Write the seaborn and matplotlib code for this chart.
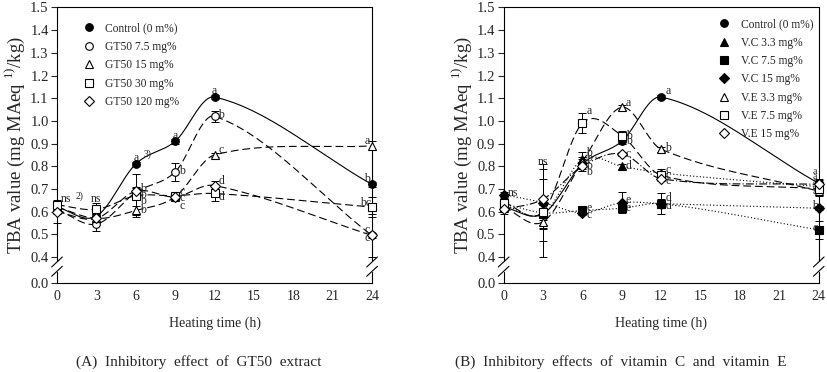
import numpy as np
import matplotlib.pyplot as plt
import seaborn as sns
from matplotlib.lines import Line2D

sns.set_style('white')
plt.rcParams['font.family'] = ['Liberation Serif', 'DejaVu Serif']
plt.rcParams['mathtext.fontset'] = 'custom'
plt.rcParams['mathtext.rm'] = 'Liberation Serif'

hours = [0, 3, 6, 9, 12, 24]

# panel A: GT50 extract
ctrl_a = [0.62, 0.58, 0.81, 0.91, 1.105, 0.72]
ctrl_a_err = [0.02, 0.02, 0.01, 0.01, 0.01, 0.01]
gt75 = [0.61, 0.545, 0.685, 0.775, 1.02, 0.495]
gt75_err = [0.02, 0.03, 0.02, 0.04, 0.025, 0.01]
gt15 = [0.62, 0.57, 0.605, 0.665, 0.85, 0.89]
gt15_err = [0.02, 0.02, 0.02, 0.01, 0.01, 0.02]
gt30 = [0.63, 0.61, 0.67, 0.67, 0.68, 0.62]
gt30_err = [0.01, 0.03, 0.095, 0.01, 0.035, 0.045]
gt120 = [0.60, 0.57, 0.69, 0.665, 0.715, 0.495]
gt120_err = [0.05, 0.02, 0.02, 0.01, 0.02, 0.095]

# panel B: vitamin C / vitamin E
ctrl_b = [0.62, 0.59, 0.81, 0.91, 1.105, 0.725]
ctrl_b_err = [0.02, 0.05, 0.02, 0.01, 0.01, 0.02]
vc33 = [0.63, 0.59, 0.83, 0.80, 0.77, 0.71]
vc33_err = [0.02, 0.06, 0.035, 0.01, 0.02, 0.02]
vc75 = [0.635, 0.595, 0.605, 0.615, 0.635, 0.52]
vc75_err = [0.02, 0.195, 0.01, 0.015, 0.045, 0.04]
vc15 = [0.675, 0.64, 0.595, 0.64, 0.635, 0.615]
vc15_err = [0.01, 0.17, 0.01, 0.045, 0.02, 0.01]
ve33 = [0.62, 0.555, 0.82, 1.06, 0.875, 0.69]
ve33_err = [0.02, 0.03, 0.02, 0.01, 0.01, 0.02]
ve75 = [0.64, 0.60, 0.99, 0.935, 0.76, 0.70]
ve75_err = [0.02, 0.03, 0.045, 0.02, 0.02, 0.02]
ve15 = [0.61, 0.655, 0.80, 0.855, 0.745, 0.72]
ve15_err = [0.02, 0.09, 0.02, 0.01, 0.01, 0.02]

labels_a = ['Control (0 m%)', 'GT50 7.5 mg%', 'GT50 15 mg%', 'GT50 30 mg%', 'GT50 120 mg%']
labels_b = ['Control (0 m%)', 'V.C 3.3 mg%', 'V.C 7.5 mg%', 'V.C 15 mg%',
            'V.E 3.3 mg%', 'V.E 7.5 mg%', 'V.E 15 mg%']

notes_a = [(0.3, 0.655, 'ns'), (1.4, 0.67, '2)'), (3, 0.655, 'ns'), (6, 0.835, 'a'),
           (6.6, 0.855, '3)'), (9, 0.935, 'a'),
           (12, 1.13, 'a'), (12.3, 1.025, 'b'), (12.3, 0.87, 'c'), (12.3, 0.735, 'd'),
           (12.3, 0.665, 'd'), (9.3, 0.78, 'b'), (9.3, 0.685, 'c'), (9.3, 0.66, 'c'),
           (9.3, 0.625, 'c'), (6.3, 0.70, 'b'), (6.3, 0.675, 'b'), (6.3, 0.645, 'b'),
           (6.3, 0.605, 'b'), (23.4, 0.91, 'a'), (23.4, 0.745, 'b'), (23.1, 0.64, 'bc'),
           (23.4, 0.52, 'c'), (23.4, 0.485, 'c')]
notes_b = [(0.3, 0.68, 'ns'), (3, 0.82, 'ns'), (6.3, 1.045, 'a'), (6.3, 0.86, 'b'),
           (6.3, 0.835, 'b'), (6.3, 0.80, 'b'), (6.3, 0.775, 'b'), (6.3, 0.615, 'e'),
           (6.3, 0.585, 'c'), (9.3, 1.08, 'a'), (9.3, 0.935, 'b'), (9.3, 0.91, 'b'),
           (9.3, 0.855, 'c'), (9.3, 0.80, 'd'), (9.3, 0.65, 'e'), (9.3, 0.615, 'e'),
           (12.3, 1.13, 'a'), (12.3, 0.88, 'b'), (12.3, 0.785, 'c'), (12.3, 0.76, 'c'),
           (12.3, 0.735, 'c'), (12.3, 0.66, 'd'), (12.3, 0.625, 'd'), (23.5, 0.775, 'a'),
           (23.5, 0.753, 'a'), (23.5, 0.731, 'a'), (23.5, 0.709, 'a'), (23.5, 0.687, 'a'),
           (23.5, 0.625, 'b'), (23.5, 0.53, 'c')]

Y0 = 0.285  # where 0.0 sits below the axis break


def smooth(x, y, n=300):
    # cubic hermite through the points, catmull-rom style tangents
    x = np.asarray(x, float)
    y = np.asarray(y, float)
    m = np.zeros_like(y)
    m[1:-1] = (y[2:] - y[:-2]) / (x[2:] - x[:-2])
    m[0] = (y[1] - y[0]) / (x[1] - x[0])
    m[-1] = (y[-1] - y[-2]) / (x[-1] - x[-2])
    xs = np.linspace(x[0], x[-1], n)
    i = np.clip(np.searchsorted(x, xs, side='right') - 1, 0, len(x) - 2)
    h = x[i + 1] - x[i]
    t = (xs - x[i]) / h
    h00 = 2 * t ** 3 - 3 * t ** 2 + 1
    h10 = t ** 3 - 2 * t ** 2 + t
    h01 = -2 * t ** 3 + 3 * t ** 2
    h11 = t ** 3 - t ** 2
    ys = h00 * y[i] + h10 * h * m[i] + h01 * y[i + 1] + h11 * h * m[i + 1]
    return xs, ys


def draw(ax, series, labels, notes, legend_xy):
    handles = []
    for (vals, errs, marker, face, ls), lab in zip(series, labels):
        xs, ys = smooth(hours, vals)
        sns.lineplot(x=xs, y=ys, ax=ax, color='black', lw=0.8, linestyle=ls,
                     sort=False, estimator=None)
        ax.errorbar(hours, vals, yerr=errs, fmt='none', ecolor='black',
                    elinewidth=0.7, capsize=3, capthick=0.7, clip_on=False, zorder=3)
        ax.plot(hours, vals, linestyle='none', marker=marker, ms=5.5,
                mfc=face, mec='black', mew=0.8, clip_on=False, zorder=4)
        handles.append(Line2D([], [], linestyle='none', marker=marker, ms=5.5,
                              mfc=face, mec='black', mew=0.8))
    for x, y, t in notes:
        fs = 7 if t in ('2)', '3)') else 8.5
        if x > 23.4 and t == 'a' and y < 0.8:
            fs = 7
        ax.text(x, y, t, fontsize=fs, ha='left' if x % 3 else 'center', va='center')
    ax.legend(handles, labels, loc='upper left', bbox_to_anchor=legend_xy,
              frameon=False, fontsize=8.3, handletextpad=0.9, labelspacing=0.55,
              borderaxespad=0, handlelength=1.0)

    ax.set_xlim(0, 24)
    ax.set_ylim(Y0, 1.5)
    ax.set_xticks(range(0, 25, 3))
    ax.set_yticks([Y0] + [round(0.4 + 0.1 * i, 1) for i in range(12)])
    ax.set_yticklabels(['0.0'] + ['%.1f' % (0.4 + 0.1 * i) for i in range(12)])
    ax.tick_params(axis='x', direction='in', length=4, labelsize=10, pad=5, width=0.8)
    ax.tick_params(axis='y', direction='out', length=4, labelsize=10.5, pad=2, width=0.8,
                   left=True)
    ax.set_xlabel('Heating time (h)', fontsize=10, labelpad=10)
    ax.set_ylabel('TBA value (mg MAeq $^{1)}$/kg)', fontsize=13.5, labelpad=2)

    for s in ['top', 'bottom']:
        ax.spines[s].set_color('black')
        ax.spines[s].set_linewidth(0.8)
    for s in ['left', 'right']:
        ax.spines[s].set_visible(False)
    tr = ax.get_yaxis_transform()
    for xa in (0, 1):
        ax.plot([xa, xa], [Y0, 0.333], transform=tr, color='black', lw=0.8, clip_on=False)
        ax.plot([xa, xa], [0.382, 1.5], transform=tr, color='black', lw=0.8, clip_on=False)
        for yc in (0.337, 0.378):
            ax.plot([xa - 0.017, xa + 0.017], [yc - 0.022, yc + 0.022], transform=tr,
                    color='black', lw=0.8, clip_on=False)


fig = plt.figure(figsize=(8.27, 3.72), dpi=100)
ax1 = fig.add_axes([0.0689, 0.239, 0.381, 0.741])
ax2 = fig.add_axes([0.609, 0.239, 0.381, 0.741])

dash = (0, (7, 3.5))
series_a = [(ctrl_a, ctrl_a_err, 'o', 'black', '-'),
            (gt75, gt75_err, 'o', 'white', dash),
            (gt15, gt15_err, '^', 'white', dash),
            (gt30, gt30_err, 's', 'white', dash),
            (gt120, gt120_err, 'D', 'white', dash)]
series_b = [(ctrl_b, ctrl_b_err, 'o', 'black', '-'),
            (vc33, vc33_err, '^', 'black', (0, (1, 2))),
            (vc75, vc75_err, 's', 'black', (0, (1, 2))),
            (vc15, vc15_err, 'D', 'black', (0, (1, 2))),
            (ve33, ve33_err, '^', 'white', dash),
            (ve75, ve75_err, 's', 'white', dash),
            (ve15, ve15_err, 'D', 'white', (0, (7, 2, 1, 2)))]

draw(ax1, series_a, labels_a, notes_a, (0.068, 0.962))
draw(ax2, series_b, labels_b, notes_b, (0.668, 0.977))

fig.text(0.240, 0.027, '(A)  Inhibitory  effect  of  GT50  extract', fontsize=11,
         ha='center', va='center')
fig.text(0.751, 0.027, '(B)  Inhibitory  effects  of  vitamin  C  and  vitamin  E', fontsize=11,
         ha='center', va='center')

fig.savefig('out.png', dpi=100)
